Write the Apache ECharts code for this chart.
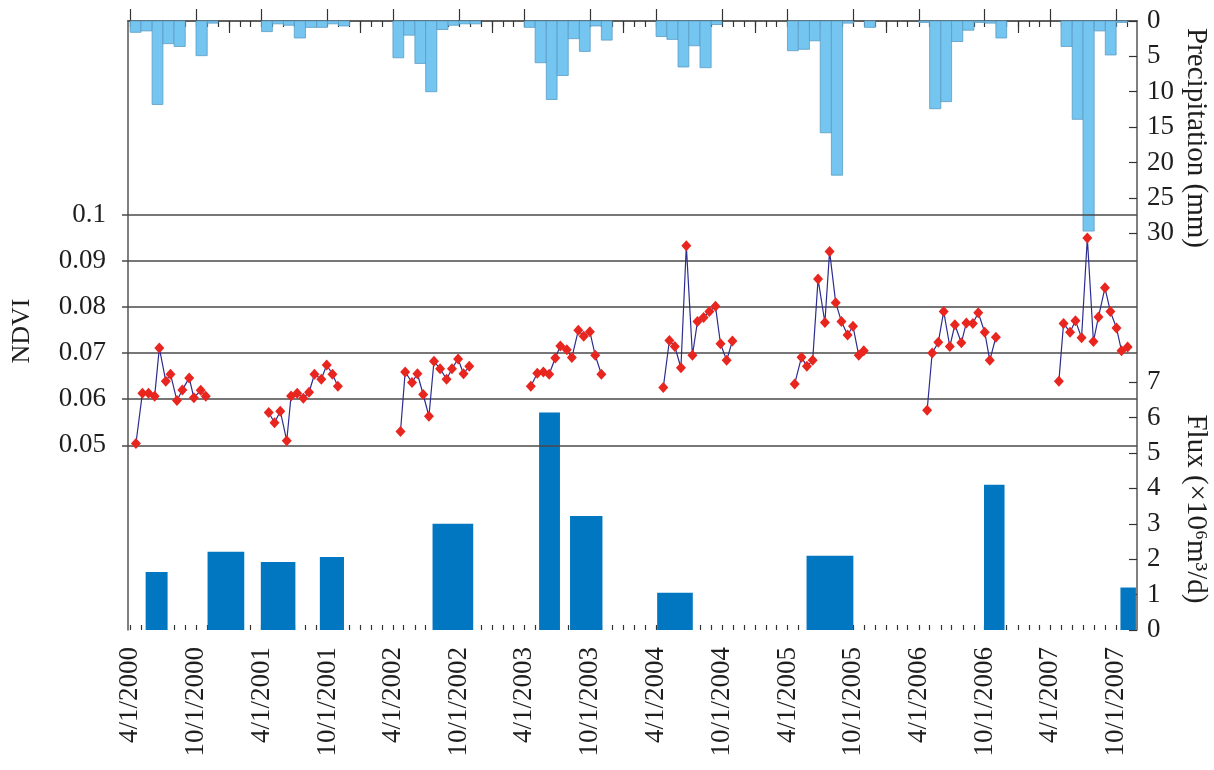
<!DOCTYPE html>
<html><head><meta charset="utf-8">
<script src="https://cdn.jsdelivr.net/npm/echarts@6/dist/echarts.min.js"></script>
<style>html,body{margin:0;padding:0;background:#fff}#c{width:1214px;height:770px}</style>
</head><body><div id="c"></div>
<script>
// ---------- data ----------
const xTickLabels = ['4/1/2000','10/1/2000','4/1/2001','10/1/2001','4/1/2002','10/1/2002','4/1/2003','10/1/2003',
  '4/1/2004','10/1/2004','4/1/2005','10/1/2005','4/1/2006','10/1/2006','4/1/2007','10/1/2007'];
const ndviTicks = [0.05, 0.06, 0.07, 0.08, 0.09, 0.1];
const precipTicks = [0, 5, 10, 15, 20, 25, 30];
const fluxTicks = [0, 1, 2, 3, 4, 5, 6, 7];

// monthly precipitation (mm), April..November of each year
const precipMonths = ['04','05','06','07','08','09','10','11'];
const precip2000 = [1.6, 1.4, 11.8, 3.2, 3.6, 0, 4.9, 0.3];
const precip2001 = [1.5, 0.4, 0.6, 2.4, 0.9, 0.9, 0.4, 0.7];
const precip2002 = [5.2, 2.0, 6.0, 10.0, 1.2, 0.6, 0.4, 0.4];
const precip2003 = [0.9, 5.9, 11.1, 7.7, 2.5, 4.3, 0.7, 2.7];
const precip2004 = [2.2, 2.6, 6.5, 3.5, 6.6, 0.5, 0, 0];
const precip2005 = [4.2, 4.0, 2.8, 15.8, 21.8, 0.3, 0, 0.9];
const precip2006 = [0.2, 12.4, 11.4, 2.9, 1.3, 0.2, 0.3, 2.4];
const precip2007 = [0, 3.6, 13.9, 29.7, 1.4, 4.8, 0.2, 0];

// flux periods (x10^6 m3/d)
const fluxStart = ['2000-05-14','2000-11-02','2001-03-30','2001-09-10','2002-07-20','2003-05-12','2003-08-06','2004-04-04','2005-05-24','2006-09-29','2007-10-13'];
const fluxEnd   = ['2000-07-14','2001-02-12','2001-07-04','2001-11-16','2002-11-10','2003-07-09','2003-11-04','2004-07-12','2005-10-01','2006-11-25','2007-11-25'];
const fluxValues = [1.64, 2.21, 1.92, 2.06, 3.00, 6.14, 3.22, 1.05, 2.10, 4.10, 1.20];

// NDVI (date, value)
const ndvi2000 = [['2000-04-17',0.0504],['2000-05-05',0.0613],['2000-05-22',0.0613],['2000-06-08',0.0606],['2000-06-21',0.0711],['2000-07-09',0.0639],['2000-07-22',0.0654],['2000-08-09',0.0597],['2000-08-24',0.0620],['2000-09-12',0.0646],['2000-09-25',0.0603],['2000-10-14',0.0619],['2000-10-28',0.0606]];
const ndvi2001 = [['2001-04-21',0.0571],['2001-05-07',0.0549],['2001-05-23',0.0574],['2001-06-10',0.0510],['2001-06-22',0.0607],['2001-07-09',0.0613],['2001-07-26',0.0602],['2001-08-11',0.0615],['2001-08-26',0.0654],['2001-09-14',0.0643],['2001-09-29',0.0674],['2001-10-15',0.0654],['2001-10-30',0.0628]];
const ndvi2002 = [['2002-04-22',0.0530],['2002-05-05',0.0659],['2002-05-24',0.0636],['2002-06-08',0.0655],['2002-06-24',0.0610],['2002-07-10',0.0563],['2002-07-24',0.0682],['2002-08-10',0.0666],['2002-08-28',0.0643],['2002-09-12',0.0666],['2002-09-29',0.0687],['2002-10-14',0.0655],['2002-10-30',0.0671]];
const ndvi2003 = [['2003-04-19',0.0628],['2003-05-07',0.0656],['2003-05-24',0.0659],['2003-06-09',0.0654],['2003-06-26',0.0689],['2003-07-10',0.0715],['2003-07-28',0.0707],['2003-08-11',0.0690],['2003-08-29',0.0749],['2003-09-13',0.0736],['2003-09-30',0.0746],['2003-10-15',0.0695],['2003-11-01',0.0654]];
const ndvi2004 = [['2004-04-21',0.0625],['2004-05-08',0.0727],['2004-05-23',0.0714],['2004-06-09',0.0668],['2004-06-24',0.0932],['2004-07-11',0.0695],['2004-07-25',0.0768],['2004-08-11',0.0777],['2004-08-27',0.0790],['2004-09-13',0.0801],['2004-09-27',0.0720],['2004-10-14',0.0684],['2004-10-30',0.0726]];
const ndvi2005 = [['2005-04-21',0.0633],['2005-05-10',0.0691],['2005-05-25',0.0671],['2005-06-10',0.0684],['2005-06-25',0.0860],['2005-07-14',0.0766],['2005-07-27',0.0920],['2005-08-13',0.0809],['2005-08-29',0.0768],['2005-09-15',0.0739],['2005-09-30',0.0758],['2005-10-16',0.0695],['2005-10-30',0.0705]];
const ndvi2006 = [['2006-04-24',0.0576],['2006-05-08',0.0700],['2006-05-25',0.0723],['2006-06-09',0.0790],['2006-06-26',0.0714],['2006-07-10',0.0761],['2006-07-28',0.0722],['2006-08-11',0.0765],['2006-08-29',0.0764],['2006-09-13',0.0787],['2006-10-01',0.0745],['2006-10-15',0.0684],['2006-11-01',0.0734]];
const ndvi2007 = [['2007-04-25',0.0639],['2007-05-08',0.0764],['2007-05-26',0.0745],['2007-06-10',0.0770],['2007-06-27',0.0733],['2007-07-13',0.0949],['2007-07-30',0.0725],['2007-08-13',0.0778],['2007-08-31',0.0841],['2007-09-15',0.0790],['2007-10-02',0.0754],['2007-10-16',0.0705],['2007-11-02',0.0713]];

// ---------- helpers ----------
function t(s){ const [y,m,d] = s.split('-').map(Number); return Date.UTC(y, m-1, d); }
function tLabel(s){ const [m,d,y] = s.split('/').map(Number); return Date.UTC(y, m-1, d); }
const FONT = 'Liberation Serif';
const TXT = '#1e1e1e';
const AX = '#555';
const TICK_FS = 27, TITLE_FS = 29;

const xMin = Date.UTC(2000, 2, 26), xMax = Date.UTC(2007, 10, 28);
const xTickValues = xTickLabels.map(tLabel);
const monthTicks = [], yearTicks = [];
for (let y = 2000; y <= 2007; y++) for (let m = 0; m < 12; m++) {
  const v = Date.UTC(y, m, 1);
  if (v > xMin && v < xMax) { monthTicks.push(v); if (m === 0) yearTicks.push(v); }
}

const precipYears = {2000:precip2000,2001:precip2001,2002:precip2002,2003:precip2003,2004:precip2004,2005:precip2005,2006:precip2006,2007:precip2007};
const precipData = [];
Object.keys(precipYears).forEach(y => {
  precipYears[y].forEach((v, i) => {
    if (v > 0) {
      const m = Number(precipMonths[i]);
      precipData.push([Date.UTC(+y, m-1, 1), Date.UTC(+y, m, 1), v]);
    }
  });
});
const fluxData = fluxValues.map((v, i) => [t(fluxStart[i]), t(fluxEnd[i]), v]);
const ndviYears = [ndvi2000, ndvi2001, ndvi2002, ndvi2003, ndvi2004, ndvi2005, ndvi2006, ndvi2007];

function rectRender(fill, stroke){
  return function(params, api){
    const a = api.coord([api.value(0), 0]);
    const b = api.coord([api.value(1), api.value(2)]);
    return { type:'rect',
      shape:{ x:Math.min(a[0],b[0]), y:Math.min(a[1],b[1]), width:Math.abs(b[0]-a[0]), height:Math.abs(b[1]-a[1]) },
      style:{ fill:fill, stroke:stroke, lineWidth: stroke ? 0.8 : 0 } };
  };
}

const baseX = { type:'value', min:xMin, max:xMax, splitLine:{show:false}, axisLabel:{show:false} };
const chart = echarts.init(document.getElementById('c'), null, {renderer:'canvas'});
const series = [
  { type:'line', xAxisIndex:0, yAxisIndex:0, data:[], z:1, silent:true,
    markLine:{ silent:true, symbol:['none','none'], label:{show:false},
      lineStyle:{ color:'#4a4a4a', width:1.5, type:'solid' },
      data: ndviTicks.map(v => ({ yAxis: v })) } },
  { type:'custom', name:'Precipitation', xAxisIndex:0, yAxisIndex:1, z:3,
    encode:{ x:[0,1], y:2 }, data: precipData, renderItem: rectRender('#74C6F1', '#5b9cc4') },
  { type:'custom', name:'Flux', xAxisIndex:0, yAxisIndex:2, z:3,
    encode:{ x:[0,1], y:2 }, data: fluxData, renderItem: rectRender('#0077C0', null) }
];
ndviYears.forEach((arr, i) => {
  series.push({ type:'line', name:'NDVI', xAxisIndex:0, yAxisIndex:0, z:5,
    data: arr.map(p => [t(p[0]), p[1]]),
    symbol:'diamond', symbolSize:[10,11], showAllSymbol:true,
    itemStyle:{ color:'#E8251E' }, lineStyle:{ color:'#2D2D8F', width:1.2 } });
});

chart.setOption({
  animation:false,
  backgroundColor:'#fff',
  grid:{ left:128, right:77, top:21, bottom:140 },
  xAxis:[
    Object.assign({}, baseX, { position:'bottom',
      axisLine:{ show:true, lineStyle:{ color:AX, width:1.5 } },
      axisTick:{ show:true, inside:true, length:12, customValues:xTickValues, lineStyle:{ color:'#333', width:1.2 } },
      axisLabel:{ show:true, customValues:xTickValues, rotate:90, margin:17,
        formatter: v => xTickLabels[xTickValues.indexOf(v)] || '',
        fontFamily:FONT, fontSize:TICK_FS, color:TXT } }),
    Object.assign({}, baseX, { position:'bottom', axisLine:{show:false},
      axisTick:{ show:true, inside:true, length:5, customValues:monthTicks, lineStyle:{ color:'#333', width:1.2 } } }),
    Object.assign({}, baseX, { position:'top',
      axisLine:{ show:true, lineStyle:{ color:AX, width:1.5 } },
      axisTick:{ show:true, inside:true, length:6, customValues:monthTicks, lineStyle:{ color:'#333', width:1.2 } } }),
    Object.assign({}, baseX, { position:'top', axisLine:{show:false},
      axisTick:{ show:true, inside:true, length:12, customValues:yearTicks, lineStyle:{ color:'#333', width:1.2 } } })
  ],
  yAxis:[
    { type:'value', position:'left', min:0.01, max:0.1419, splitLine:{show:false},
      axisLine:{ show:true, lineStyle:{ color:AX, width:1.5 } },
      axisTick:{ show:true, inside:false, length:6, customValues:ndviTicks, lineStyle:{ color:'#4a4a4a', width:1.5 } },
      axisLabel:{ customValues:ndviTicks, margin:22, formatter: v => String(parseFloat(v.toFixed(2))),
        fontFamily:FONT, fontSize:TICK_FS, color:TXT } },
    { type:'value', position:'right', inverse:true, min:0, max:86.1, splitLine:{show:false},
      axisLine:{ show:true, lineStyle:{ color:AX, width:1.5 } },
      axisTick:{ show:true, inside:true, length:8, customValues:precipTicks, lineStyle:{ color:'#333', width:1.2 } },
      axisLabel:{ customValues:precipTicks, margin:10, fontFamily:FONT, fontSize:TICK_FS, color:TXT } },
    { type:'value', position:'right', min:0, max:17.2, splitLine:{show:false},
      axisLine:{ show:false },
      axisTick:{ show:true, inside:true, length:8, customValues:fluxTicks, lineStyle:{ color:'#333', width:1.2 } },
      axisLabel:{ customValues:fluxTicks, margin:10, fontFamily:FONT, fontSize:TICK_FS, color:TXT } }
  ],
  graphic:[
    { type:'text', x:22, y:331, rotation:Math.PI/2,
      style:{ text:'NDVI', font:'26px "Liberation Serif"', fill:TXT, align:'center', verticalAlign:'middle' } },
    { type:'text', x:1196, y:138, rotation:-Math.PI/2,
      style:{ text:'Precipitation (mm)', font:TITLE_FS + 'px "Liberation Serif"', fill:TXT, align:'center', verticalAlign:'middle' } },
    { type:'text', x:1196, y:509, rotation:-Math.PI/2,
      style:{ text:'Flux (×10⁶m³/d)', font:TITLE_FS + 'px "Liberation Serif"', fill:TXT, align:'center', verticalAlign:'middle' } }
  ],
  series: series
});
</script></body></html>
